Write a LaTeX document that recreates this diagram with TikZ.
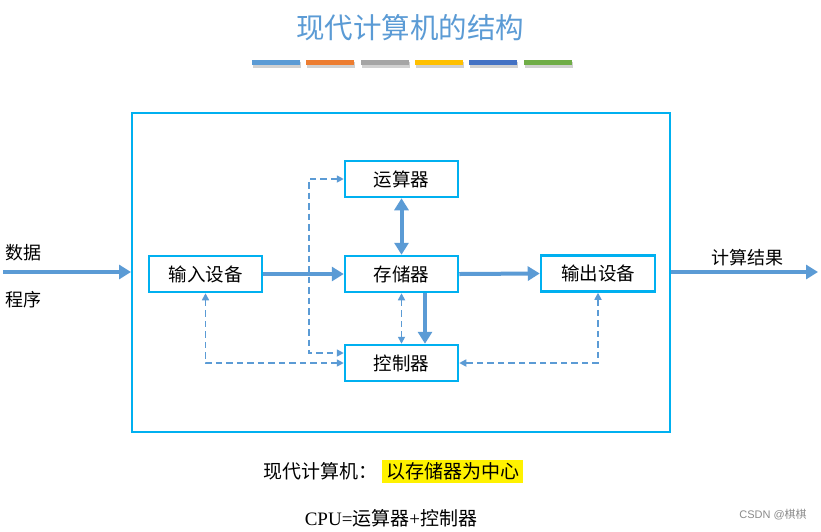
\documentclass[tikz,border=0pt]{standalone}
\usepackage{fontspec}
\setmainfont{Liberation Serif}
\newfontfamily\cjk{Noto Sans CJK SC}
\newfontfamily\sans{Liberation Sans}
\usetikzlibrary{arrows.meta}
\definecolor{frameC}{RGB}{0,176,240}
\definecolor{arrC}{RGB}{91,155,213}
\definecolor{titleC}{RGB}{91,155,213}
\definecolor{barA}{RGB}{91,155,213}
\definecolor{barB}{RGB}{237,125,49}
\definecolor{barC}{RGB}{165,165,165}
\definecolor{barD}{RGB}{255,192,0}
\definecolor{barE}{RGB}{68,114,196}
\definecolor{barF}{RGB}{112,173,71}
\begin{document}
\begin{tikzpicture}[x=1pt,y=-1pt,
  unitbox/.style={draw=frameC,line width=2.5pt,minimum width=113pt,minimum height=36pt,inner sep=0pt,font=\cjk\fontsize{18.5}{20}\selectfont,text=black},
  thickarr/.style={draw=arrC,line width=4pt,-{Triangle[length=12pt,width=14pt]}},
  thickdbl/.style={draw=arrC,line width=4pt,{Triangle[length=12pt,width=14pt]}-{Triangle[length=12pt,width=14pt]}},
  darr/.style={draw=arrC,line width=1.6pt,dash pattern=on 6.5pt off 4pt,{Triangle[length=7pt,width=7pt]}-{Triangle[length=7pt,width=7pt]}},
  lbl/.style={font=\cjk\fontsize{18}{20}\selectfont,text=black,inner sep=0pt},
  cbar/.style={minimum width=48pt,minimum height=5pt,inner sep=0pt}
]
\useasboundingbox (0,0) rectangle (821,531);
\fill[white] (0,0) rectangle (821,531);

% title
\node[font=\cjk\fontsize{28.5}{31}\selectfont,text=titleC,inner sep=0pt] (title) at (410,28) {现代计算机的结构};

% colour bars
\foreach \c/\x [count=\i] in {barA/276,barB/329.5,barC/384.5,barD/438.5,barE/492.5,barF/547.5}{
  \fill[black!18] (\x-24+1,61.5) rectangle (\x+24+1,67.5);
  \node[cbar,fill=\c] (bar\i) at (\x,62.7) {};
}

% outer frame
\node[draw=frameC,line width=2pt,minimum width=538pt,minimum height=319pt,inner sep=0pt] (frame) at (401,272.5) {};

% units
\node[unitbox] (alu) at (401.5,179) {运算器};
\node[unitbox] (mem) at (401.5,274) {存储器};
\node[unitbox] (ctl) at (401.5,363) {控制器};
\node[unitbox] (inp) at (205.5,274) {输入设备};
\node[unitbox,minimum width=114pt] (outp) at (598,273.5) {输出设备};

% thick arrows
\draw[thickarr] (inp.east) -- (mem.west);
\draw[thickarr] (mem.east) -- (outp.west);
\draw[thickdbl] (alu.south) -- (mem.north);
\draw[thickarr] ([xshift=23.5pt]mem.south) -- ([xshift=23.5pt]ctl.north);

% outside arrows
\coordinate (srcL) at (3,272);
\coordinate (dstR) at (818,272);
\draw[thickarr] (srcL) -- (srcL -| frame.west);
\draw[thickarr] (dstR -| frame.east) -- (dstR);

% dashed control arrows
\draw[darr] (alu.west) -- ++(-35,0) |- ([yshift=10pt]ctl.west);
\draw[darr] (inp.south) |- (ctl.west);
\draw[darr] (outp.south) |- (ctl.east);
\draw[darr] (mem.south) -- (ctl.north);

% labels
\node[lbl,anchor=west] (lData) at (5,253) {数据};
\node[lbl,anchor=west] (lProg) at (5,300) {程序};
\node[lbl,anchor=west] (lRes) at (711,258) {计算结果};

% bottom texts
\node[lbl,font=\cjk\fontsize{19}{21}\selectfont,anchor=west] (modern) at (263,471) {现代计算机：};
\node[fill=yellow,minimum width=141pt,minimum height=23pt,inner sep=0pt,font=\cjk\fontsize{19}{21}\selectfont] (center) at (452.5,471.3) {以存储器为中心};
\node[inner sep=0pt,font=\fontsize{19}{21}\selectfont] (cpu) at (391,518) {CPU={\cjk 运算器}+{\cjk 控制器}};

% watermark
\node[inner sep=0pt,text=black!45,font=\sans\fontsize{11}{13}\selectfont] (csdn) at (773,515) {CSDN @{\cjk 棋棋}};
\end{tikzpicture}
\end{document}
